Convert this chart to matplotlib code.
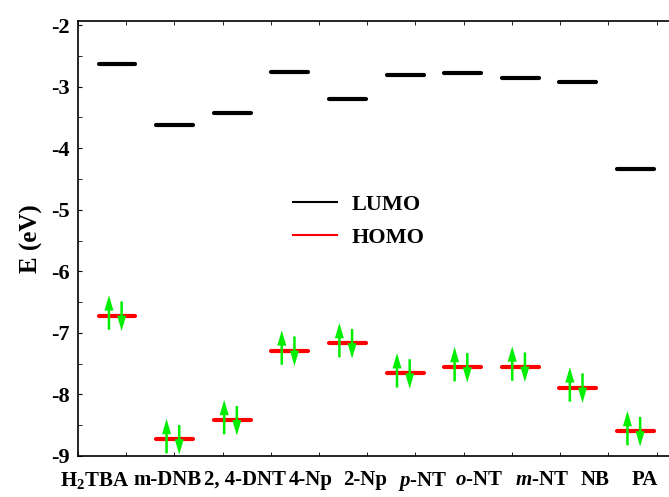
import matplotlib
matplotlib.use("Agg")
import matplotlib.pyplot as plt
from matplotlib.lines import Line2D
from matplotlib.ticker import MultipleLocator
import numpy as np

# frontier orbital energies (eV)
molecules = ["H$_2$TBA", "m-DNB", "2, 4-DNT", "4-Np", "2-Np",
             "$p$-NT", "$o$-NT", "$m$-NT", "NB", "PA"]
lumo = [-2.63, -3.62, -3.43, -2.76, -3.20, -2.81, -2.77, -2.86, -2.93, -4.34]
homo = [-6.72, -8.73, -8.42, -7.29, -7.17, -7.66, -7.56, -7.55, -7.89, -8.60]

plt.rcParams['font.family'] = 'Liberation Serif'
plt.rcParams['font.weight'] = 'bold'
plt.rcParams['axes.unicode_minus'] = False
plt.rcParams['mathtext.fontset'] = 'custom'
plt.rcParams['mathtext.rm'] = 'Liberation Serif:bold'
plt.rcParams['mathtext.it'] = 'Liberation Serif:italic:bold'
plt.rcParams['mathtext.bf'] = 'Liberation Serif:bold'

x = np.arange(len(molecules))
half = 0.32
green = '#00ee00'
arrow = dict(arrowstyle='simple,head_length=0.85,head_width=0.5,tail_width=0.14',
             fc=green, ec='none', lw=0, mutation_scale=13, shrinkA=0, shrinkB=0)

fig = plt.figure(figsize=(6.69, 4.97), dpi=100)
ax = fig.add_axes([0.1166, 0.0829, 0.90, 0.8754])

ax.hlines(lumo, x - half, x + half, colors='black', lw=3, capstyle='round')
ax.hlines(homo, x - half, x + half, colors='red', lw=3, capstyle='round')

# paired electrons in each HOMO
for xi, e in zip(x, homo):
    ax.annotate('', xy=(xi - 0.14, e + 0.33), xytext=(xi - 0.14, e - 0.23),
                arrowprops=arrow)
    ax.annotate('', xy=(xi + 0.08, e - 0.25), xytext=(xi + 0.08, e + 0.23),
                arrowprops=arrow)

ax.set_xlim(-0.677, 9.774)
ax.set_ylim(-9.0, -1.927)

# label row sits a little off the level centres
shift = [-0.39, -0.12, 0.23, 0.36, 0.31, 0.31, 0.29, 0.38, 0.30, 0.16]
ax.set_xticks(x + np.array(shift))
ax.set_xticklabels(molecules, fontsize=15, fontweight='bold')
ax.set_xticks(np.arange(-0.677, 9.774, 0.8368), minor=True)
ax.tick_params(axis='x', which='major', length=0, pad=10)
ax.tick_params(axis='x', which='minor', direction='in', length=3, top=True, bottom=True)

ax.yaxis.set_major_locator(MultipleLocator(1))
ax.yaxis.set_minor_locator(MultipleLocator(0.5))
ax.tick_params(axis='y', which='both', direction='in', length=3, labelsize=16, pad=6)
for lbl in ax.get_yticklabels():
    lbl.set_fontweight('bold')

ax.set_ylabel('E (eV)', fontsize=18, fontweight='bold', labelpad=6)

for s in ax.spines.values():
    s.set_linewidth(1.2)

handles = [Line2D([], [], color='black', lw=1.5), Line2D([], [], color='red', lw=1.5)]
ax.legend(handles, ['LUMO', 'HOMO'], loc='center left', bbox_to_anchor=(0.357, 0.539),
          frameon=False, borderpad=0, borderaxespad=0, handlelength=2.0,
          handletextpad=0.65, labelspacing=0.55, prop={'size': 16, 'weight': 'bold'})

fig.savefig('out.png', dpi=100)
